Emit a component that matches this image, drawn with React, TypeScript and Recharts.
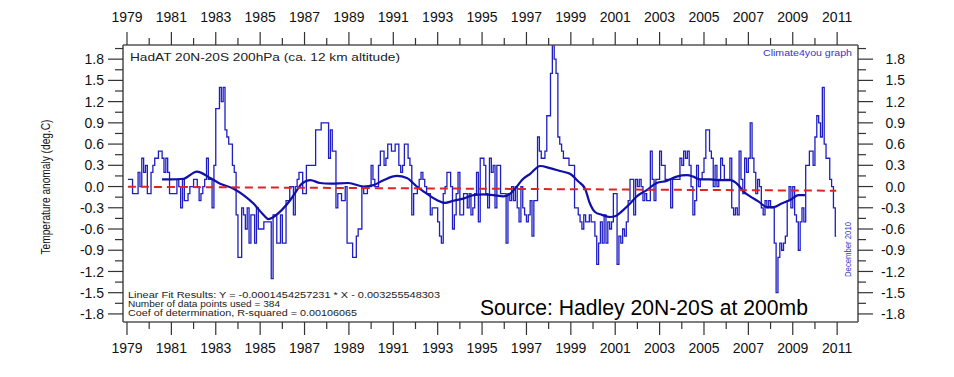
import React from 'react'
import { ComposedChart, Line, XAxis, YAxis } from 'recharts'

// year ticks (labels on odd years) and anomaly ticks (labels every 0.3)
const yearTicks = [
  1979, 1980, 1981, 1982, 1983, 1984, 1985, 1986, 1987, 1988, 1989, 1990, 1991, 1992, 1993, 1994, 1995,
  1996, 1997, 1998, 1999, 2000, 2001, 2002, 2003, 2004, 2005, 2006, 2007, 2008, 2009, 2010, 2011,
]
const anomalyTicks = [
  -1.8, -1.65, -1.5, -1.35, -1.2, -1.05, -0.9, -0.75, -0.6, -0.45, -0.3, -0.15, 0, 0.15, 0.3, 0.45, 0.6,
  0.75, 0.9, 1.05, 1.2, 1.35, 1.5, 1.65, 1.8, 1.95,
]

const firstYear = 1979

// monthly HadAT 20N-20S 200hPa anomalies, Jan 1979 .. Dec 2010 (one row per year)
const monthlyAnomaly = [
  0.1, 0.1, 0.1, -0.1, -0.1, -0.1, 0.2, 0.0, 0.4, 0.2, 0.3, -0.1,
  -0.1, 0.2, 0.3, 0.4, 0.4, 0.5, 0.5, 0.4, 0.2, 0.4, 0.2, -0.1,
  -0.1, -0.1, -0.1, 0.1, 0.0, -0.3, 0.1, -0.2, -0.2, -0.1, 0.0, 0.0,
  0.1, 0.1, 0.0, -0.2, -0.1, 0.0, 0.1, 0.4, 0.1, 0.1, -0.3, 0.3,
  1.1, 1.1, 1.4, 1.2, 1.4, 0.8, 0.7, 0.6, 0.6, 0.3, 0.2, -0.4,
  -1.0, -1.0, -0.3, -0.4, -0.6, -0.3, -0.8, -0.4, -0.4, -0.8, -0.3, -0.6,
  -0.6, -0.6, -0.5, -0.5, -0.5, -0.5, -1.3, -0.4, -0.4, -0.8, -0.8, -0.4,
  -0.8, -0.8, -0.2, -0.2, 0.0, 0.0, -0.4, 0.0, 0.1, 0.2, 0.2, -0.1,
  -0.1, 0.3, 0.3, 0.3, 0.3, 0.3, 0.8, 0.8, 0.8, 0.9, 0.9, 0.9,
  0.9, 0.4, 0.8, 0.5, 0.5, -0.3, -0.1, -0.1, -0.2, -0.2, 0.0, -0.8,
  -0.8, -0.8, -1.0, -1.0, -0.7, -0.6, -0.6, 0.0, -0.1, -0.1, 0.0, 0.0,
  0.3, 0.1, 0.0, 0.0, 0.3, 0.5, 0.5, 0.3, 0.4, 0.6, 0.6, 0.5,
  0.5, 0.6, 0.6, 0.3, 0.2, 0.3, 0.6, 0.6, 0.4, 0.3, -0.4, -0.1,
  -0.1, 0.0, 0.1, 0.2, 0.1, 0.0, -0.1, -0.1, -0.4, -0.3, -0.3, -0.3,
  -0.5, -0.7, -0.8, -0.1, 0.0, 0.2, 0.2, 0.0, -0.6, -0.4, -0.1, 0.2,
  -0.4, -0.4, -0.1, -0.1, -0.3, -0.1, -0.4, -0.3, -0.1, 0.2, -0.5, 0.4,
  0.4, 0.3, -0.1, -0.3, 0.4, 0.2, 0.3, -0.3, 0.3, 0.3, -0.1, -0.1,
  -0.1, -0.8, -0.1, -0.2, 0.0, -0.2, 0.0, -0.3, -0.5, 0.0, -0.3, -0.4,
  -0.5, -0.4, -0.2, -0.7, -0.2, -0.2, 0.7, 0.5, 0.4, 0.4, 0.5, 1.0,
  1.0, 1.6, 2.0, 1.8, 1.6, 0.7, 0.6, 0.5, 0.4, 0.4, 0.4, 0.3,
  0.3, 0.3, -0.3, -0.3, -0.4, -0.5, -0.6, -0.4, -0.5, -0.5, -0.4, -0.5,
  -0.5, -0.7, -1.1, -0.8, -0.5, -0.8, -0.4, -0.8, -0.5, -0.6, -0.5, -0.1,
  -0.1, -1.1, -0.7, -0.8, -0.6, -0.7, -0.5, -0.2, 0.1, 0.1, -0.4, 0.1,
  0.0, 0.1, 0.0, -0.2, -0.1, -0.2, -0.2, 0.5, 0.1, -0.2, 0.1, 0.1,
  0.5, 0.3, 0.3, 0.1, 0.1, 0.1, -0.3, 0.1, 0.1, 0.1, 0.1, 0.4,
  0.3, 0.5, 0.4, 0.5, 0.3, 0.0, -0.4, -0.2, 0.3, 0.0, 0.1, 0.2,
  0.4, 0.8, 0.8, 0.5, 0.4, 0.0, 0.3, 0.0, 0.1, 0.4, 0.3, 0.1,
  0.1, 0.1, 0.4, -0.3, -0.4, -0.3, -0.4, 0.5, 0.1, -0.1, 0.4, 0.2,
  0.4, 0.9, 0.4, 0.2, -0.1, 0.1, 0.0, -0.3, -0.4, -0.2, -0.3, -0.2,
  -0.3, -0.3, -0.8, -1.5, -1.0, -0.8, -0.9, -0.8, -0.7, -0.2, 0.0, -0.3,
  0.0, -0.4, -0.5, -0.9, -0.5, -0.3, -0.5, 0.3, 0.3, 0.5, 0.5, 0.3,
  0.7, 1.0, 0.9, 0.7, 1.4, 0.6, 0.4, 0.4, 0.1, 0.0, -0.3, -0.7,
]

// 37-month running mean
const runningMeanYears = [
  1980.58, 1981.0, 1981.55, 1982.15, 1982.75, 1983.2, 1983.8, 1984.25, 1984.7, 1985.15, 1985.38, 1985.6,
  1985.98, 1986.36, 1986.66, 1986.88, 1987.26, 1987.7, 1988.16, 1988.98, 1989.66, 1990.11, 1990.56, 1991.16,
  1991.61, 1992.06, 1992.51, 1992.96, 1993.34, 1993.71, 1994.16, 1994.61, 1995.06, 1995.51, 1995.96, 1996.27,
  1996.57, 1996.79, 1997.17, 1997.62, 1998.06, 1998.51, 1998.96, 1999.34, 1999.64, 1999.86, 2000.09, 2000.4,
  2000.76, 2000.99, 2001.37, 2001.67, 2001.97, 2002.42, 2002.87, 2003.32, 2003.77, 2004.23, 2004.52, 2004.83,
  2005.28, 2005.73, 2006.18, 2006.55, 2006.78, 2007.08, 2007.45, 2007.83, 2008.13, 2008.5, 2008.88, 2009.25,
  2009.55,
]
const runningMeanValues = [
  0.1, 0.1, 0.11, 0.21, 0.12, 0.04, -0.03, -0.12, -0.24, -0.4, -0.46, -0.43,
  -0.33, -0.19, -0.05, 0.04, 0.09, 0.05, 0.04, 0.05, 0.0, 0.02, 0.09, 0.15,
  0.12, 0.0, -0.1, -0.19, -0.23, -0.2, -0.17, -0.12, -0.11, -0.12, -0.14, -0.1,
  0.0, 0.09, 0.18, 0.29, 0.26, 0.22, 0.18, 0.07, -0.03, -0.24, -0.36, -0.4,
  -0.43, -0.42, -0.33, -0.24, -0.14, -0.05, 0.05, 0.08, 0.14, 0.16, 0.14, 0.1,
  0.1, 0.09, 0.09, 0.02, -0.07, -0.14, -0.21, -0.29, -0.29, -0.24, -0.19, -0.12,
  -0.12,
]

// linear fit end points
const trendYears = [1979.04, 2010.96]
const trendValues = [-0.003, -0.059]

const W = 954
const H = 377
const font = '"Liberation Sans", Arial, sans-serif'
const axisColor = '#555'

const monthlyData = monthlyAnomaly.map((v, i) => ({ t: firstYear + (i + 0.5) / 12, v }))
const meanData = runningMeanYears.map((t, i) => ({ t, v: runningMeanValues[i] }))
const trendData = trendYears.map((t, i) => ({ t, v: trendValues[i] }))

const xDomain: [number, number] = [1978.82, 2011.94]
const yDomain: [number, number] = [-1.914, 2.0]

function yTick(side: 'left' | 'right') {
  return (props: any) => {
    const { x, y, payload } = props
    const v: number = payload.value
    const major = Math.round(v * 100) % 30 === 0
    const dir = side === 'left' ? -1 : 1
    const len = major ? 15 : 8
    return (
      <g>
        <line x1={x} x2={x + dir * len} y1={y} y2={y} stroke="#333" strokeWidth={1.2} />
        {major && (
          <text
            x={side === 'left' ? x - 19 : x + 47}
            y={y}
            dy="0.36em"
            textAnchor="end"
            fontFamily={font}
            fontSize={14}
            fill="#111"
          >
            {v.toFixed(1)}
          </text>
        )}
      </g>
    )
  }
}

function xTick(side: 'top' | 'bottom') {
  return (props: any) => {
    const { x, y, payload } = props
    const yr: number = payload.value
    const major = yr % 2 === 1
    const dir = side === 'bottom' ? 1 : -1
    const len = major ? 13 : 7
    return (
      <g>
        <line x1={x} x2={x} y1={y} y2={y + dir * len} stroke="#333" strokeWidth={1.2} />
        {major && (
          <text
            x={x}
            y={side === 'bottom' ? y + 31 : y - 23}
            textAnchor="middle"
            fontFamily={font}
            fontSize={14}
            fill="#111"
          >
            {yr}
          </text>
        )}
      </g>
    )
  }
}

export default function App() {
  return (
    <div style={{ position: 'absolute', left: 0, top: 0, width: W, height: H, background: '#fff' }}>
      <ComposedChart width={W} height={H} margin={{ top: 15, right: 36, bottom: 25, left: 63 }}>
        <XAxis
          xAxisId="bottom"
          type="number"
          dataKey="t"
          domain={xDomain}
          allowDataOverflow
          ticks={yearTicks}
          interval={0}
          tickSize={0}
          tickMargin={0}
          tickLine={false}
          height={30}
          axisLine={{ stroke: axisColor, strokeWidth: 1.6 }}
          tick={xTick('bottom')}
        />
        <XAxis
          xAxisId="top"
          orientation="top"
          type="number"
          dataKey="t"
          domain={xDomain}
          allowDataOverflow
          ticks={yearTicks}
          interval={0}
          tickSize={0}
          tickMargin={0}
          tickLine={false}
          height={30}
          axisLine={{ stroke: axisColor, strokeWidth: 1.6 }}
          tick={xTick('top')}
        />
        <YAxis
          yAxisId="left"
          type="number"
          domain={yDomain}
          allowDataOverflow
          ticks={anomalyTicks}
          interval={0}
          tickSize={0}
          tickMargin={0}
          tickLine={false}
          width={60}
          axisLine={{ stroke: axisColor, strokeWidth: 1.6 }}
          tick={yTick('left')}
        />
        <YAxis
          yAxisId="right"
          orientation="right"
          type="number"
          domain={yDomain}
          allowDataOverflow
          ticks={anomalyTicks}
          interval={0}
          tickSize={0}
          tickMargin={0}
          tickLine={false}
          width={60}
          axisLine={{ stroke: axisColor, strokeWidth: 1.6 }}
          tick={yTick('right')}
        />
        <Line
          xAxisId="bottom"
          yAxisId="left"
          data={monthlyData}
          dataKey="v"
          type="step"
          stroke="#1e1ec4"
          strokeWidth={1.3}
          dot={false}
          isAnimationActive={false}
        />
        <Line
          xAxisId="bottom"
          yAxisId="left"
          data={meanData}
          dataKey="v"
          type="monotone"
          stroke="#1010a8"
          strokeWidth={2.2}
          dot={false}
          isAnimationActive={false}
        />
        <Line
          xAxisId="bottom"
          yAxisId="left"
          data={trendData}
          dataKey="v"
          type="linear"
          stroke="#e02424"
          strokeWidth={2}
          strokeDasharray="8 5"
          dot={false}
          isAnimationActive={false}
        />
      </ComposedChart>

      {/* annotations */}
      <svg
        width={W}
        height={H}
        style={{ position: 'absolute', left: 0, top: 0, pointerEvents: 'none' }}
        fontFamily={font}
      >
        <text x={130} y={61} fontSize={11.5} fill="#222" textLength={270} lengthAdjust="spacingAndGlyphs">
          HadAT 20N-20S 200hPa (ca. 12 km altitude)
        </text>
        <text x={763} y={56} fontSize={8.5} fill="#3535d0" textLength={89} lengthAdjust="spacingAndGlyphs">
          Climate4you graph
        </text>
        <text
          transform="translate(851,249.5) rotate(-90)"
          textAnchor="middle"
          fontSize={9.5}
          fill="#3535d0"
          textLength={55}
          lengthAdjust="spacingAndGlyphs"
        >
          December 2010
        </text>
        <text
          transform="translate(50,187) rotate(-90)"
          textAnchor="middle"
          fontSize={12.5}
          fill="#111"
          textLength={135}
          lengthAdjust="spacingAndGlyphs"
        >
          Temperature anomaly (deg.C)
        </text>
        <text x={128} y={298} fontSize={8.5} fill="#222" textLength={312} lengthAdjust="spacingAndGlyphs">
          Linear Fit Results:   Y = -0.0001454257231 * X - 0.003255548303
        </text>
        <text x={128} y={307} fontSize={8.5} fill="#222" textLength={152} lengthAdjust="spacingAndGlyphs">
          Number of data points used = 384
        </text>
        <text x={128} y={316} fontSize={8.5} fill="#222" textLength={229} lengthAdjust="spacingAndGlyphs">
          Coef of determination, R-squared = 0.00106065
        </text>
        <text x={480} y={315} fontSize={22} fill="#000" textLength={328} lengthAdjust="spacingAndGlyphs">
          Source: Hadley 20N-20S at 200mb
        </text>
      </svg>
    </div>
  )
}
